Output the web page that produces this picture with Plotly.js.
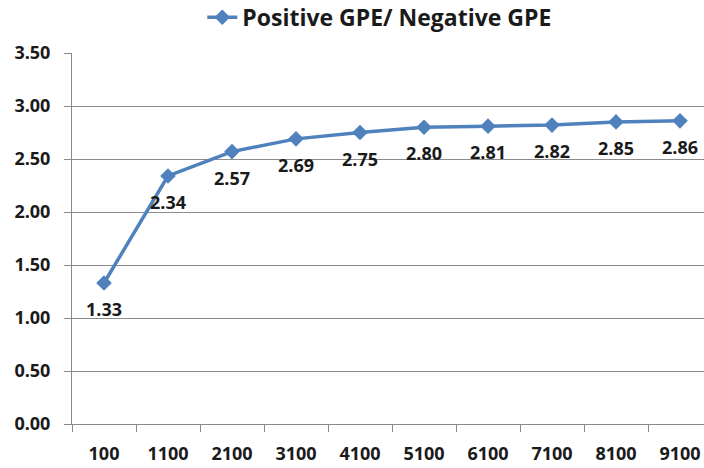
<!DOCTYPE html>
<html><head><meta charset="utf-8">
<script src="https://cdn.plot.ly/plotly-3.0.1.min.js"></script>
<style>html,body{margin:0;padding:0;background:#fff}</style>
</head><body><div id="chart" style="width:704px;height:468px"></div>
<script>
var categories = ["100","1100","2100","3100","4100","5100","6100","7100","8100","9100"];
var ratio = [1.33, 2.34, 2.57, 2.69, 2.75, 2.80, 2.81, 2.82, 2.85, 2.86];
var seriesName = "Positive GPE/ Negative GPE";
var labels = ratio.map(function(v){return v.toFixed(2);});
var font = "'Open Sans', Lato, sans-serif";
var numFont = {family: font, size: 18, color: "#1a1a1a", weight: "bold"};
var trace = {
  x: categories, y: ratio, type: "scatter", mode: "lines+markers",
  name: seriesName,
  line: {color: "#4F81BD", width: 3.5},
  marker: {symbol: "diamond", size: 12, color: "#4F81BD"},
  cliponaxis: false
};
var annotations = categories.map(function(c, i){
  return {x: i, y: ratio[i], xref: "x", yref: "y", text: labels[i], showarrow: false,
    yshift: -26, font: numFont};
});
var layout = {
  width: 704, height: 468,
  margin: {l: 72, r: 0, t: 53, b: 44, autoexpand: false},
  paper_bgcolor: "#fff", plot_bgcolor: "#fff",
  showlegend: true,
  annotations: annotations,
  legend: {orientation: "h", x: 0.487, xanchor: "center", y: 1.154, yanchor: "top",
    yref: "paper", font: {family: font, size: 23, color: "#1a1a1a", weight: "bold"},
    itemwidth: 30},
  xaxis: {type: "category", range: [-0.5, 9.375], tickson: "boundaries",
    ticks: "outside", ticklen: 7, tickcolor: "#888", showline: true, linecolor: "#888",
    linewidth: 1, showgrid: false, zeroline: false, ticklabelstandoff: 13,
    tickfont: numFont, automargin: false},
  yaxis: {range: [0, 3.5], dtick: 0.5, tick0: 0, tickformat: ".2f",
    ticks: "outside", ticklen: 7, tickcolor: "#888", showline: true, linecolor: "#888",
    gridcolor: "#8c8c8c", gridwidth: 1, zeroline: false, ticklabelstandoff: 10,
    tickfont: numFont, automargin: false}
};
Plotly.newPlot("chart", [trace], layout, {displayModeBar: false});
</script></body></html>
